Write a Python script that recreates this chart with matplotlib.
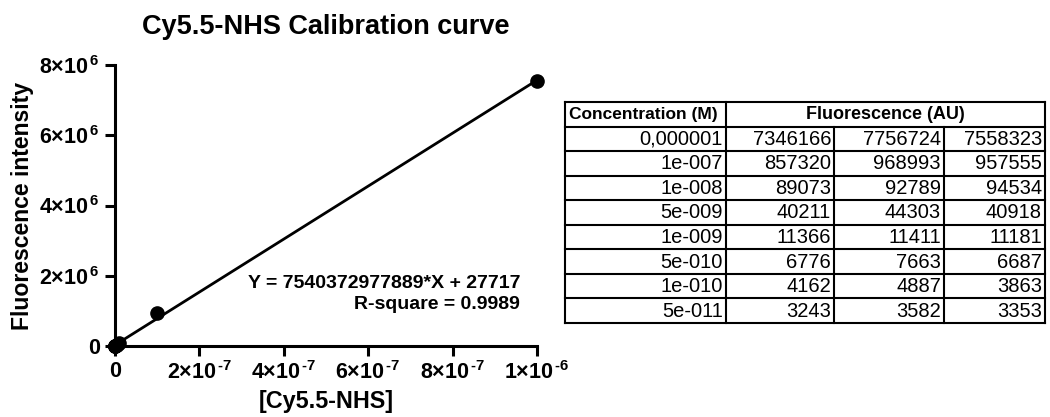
import matplotlib
matplotlib.use("Agg")
import matplotlib.pyplot as plt
import numpy as np

plt.rcParams['font.family'] = ['Liberation Sans', 'DejaVu Sans']
plt.rcParams['mathtext.fontset'] = 'custom'
plt.rcParams['mathtext.rm'] = 'Liberation Sans:bold'
plt.rcParams['mathtext.bf'] = 'Liberation Sans:bold'
plt.rcParams['mathtext.it'] = 'Liberation Sans:bold'

# ---- data ----
conc_labels = ["0,000001", "1e-007", "1e-008", "5e-009", "1e-009", "5e-010", "1e-010", "5e-011"]
conc = [1e-6, 1e-7, 1e-8, 5e-9, 1e-9, 5e-10, 1e-10, 5e-11]
rep1 = [7346166, 857320, 89073, 40211, 11366, 6776, 4162, 3243]
rep2 = [7756724, 968993, 92789, 44303, 11411, 7663, 4887, 3582]
rep3 = [7558323, 957555, 94534, 40918, 11181, 6687, 3863, 3353]
slope = 7540372977889
intercept = 27717
r_square = 0.9989
x_ticks = [0, 2e-7, 4e-7, 6e-7, 8e-7, 1e-6]
x_tick_labels = ["0", r"$2{\times}10^{\,\text{-7}}$", r"$4{\times}10^{\,\text{-7}}$", r"$6{\times}10^{\,\text{-7}}$",
                 r"$8{\times}10^{\,\text{-7}}$", r"$1{\times}10^{\,\text{-6}}$"]
y_ticks = [0, 2e6, 4e6, 6e6, 8e6]
y_tick_labels = ["0", r"$2{\times}10^{\,6}$", r"$4{\times}10^{\,6}$", r"$6{\times}10^{\,6}$", r"$8{\times}10^{\,6}$"]

means = np.mean([rep1, rep2, rep3], axis=0)

W, H = 1050, 417
fig = plt.figure(figsize=(W/100, H/100), dpi=100)
x0, x1, y0, y1 = 115, 537, 346, 65
ax = fig.add_axes([x0/W, 1-y0/H, (x1-x0)/W, (y0-y1)/H])

xfit = np.array([0, max(conc)])
ax.plot(xfit, slope*xfit + intercept, color='black', lw=2, clip_on=False, zorder=2)
ax.plot(conc, means, 'o', color='black', ms=9.5, clip_on=False, zorder=3)

ax.set_xlim(0, 1e-6)
ax.set_ylim(0, 8e6)
ax.set_xticks(x_ticks)
ax.set_xticklabels(x_tick_labels)
ax.set_yticks(y_ticks)
ax.set_yticklabels(y_tick_labels)
for s in ['top', 'right']:
    ax.spines[s].set_visible(False)
for s in ['left', 'bottom']:
    ax.spines[s].set_linewidth(2.2)
ax.tick_params(width=2.2, length=7, labelsize=15.5, pad=4)
for lab in ax.get_xticklabels() + ax.get_yticklabels():
    lab.set_fontweight('bold')
ax.set_xlabel("[Cy5.5-NHS]", fontsize=16.8, fontweight='bold', labelpad=4)
ax.set_ylabel("Fluorescence intensity", fontsize=16.6, fontweight='bold', labelpad=4)
ax.set_title("Cy5.5-NHS Calibration curve", fontsize=19.5, fontweight='bold', pad=22)

ax.text(0.96, 0.224, f"Y = {slope}*X + {intercept}", transform=ax.transAxes,
        ha='right', va='center', fontsize=14, fontweight='bold')
ax.text(0.96, 0.146, f"R-square = {r_square}", transform=ax.transAxes,
        ha='right', va='center', fontsize=14, fontweight='bold')

# ---- table ----
tl, tr, tt, tb = 565, 1045, 102, 323
tax = fig.add_axes([tl/W, 1-tb/H, (tr-tl)/W, (tb-tt)/H])
col_w = [161, 108, 110, 101]
edges = np.concatenate([[0], np.cumsum(col_w)])
nrows = len(conc_labels) + 1
tax.set_xlim(0, edges[-1])
tax.set_ylim(nrows, 0)
tax.axis('off')
lw = 1.5
for r in range(nrows + 1):
    tax.plot([0, edges[-1]], [r, r], color='black', lw=lw, clip_on=False, solid_capstyle='projecting')
for i, e in enumerate(edges):
    if i in (0, 1, len(edges)-1):
        tax.plot([e, e], [0, nrows], color='black', lw=lw, clip_on=False, solid_capstyle='projecting')
    else:
        tax.plot([e, e], [1, nrows], color='black', lw=lw, clip_on=False, solid_capstyle='projecting')

fs = 14.5
tax.text(edges[0] + 4, 0.5, "Concentration (M)", ha='left', va='center', fontsize=12.5, fontweight='bold')
tax.text((edges[1] + edges[-1]) / 2, 0.5, "Fluorescence (AU)", ha='center', va='center', fontsize=13, fontweight='bold')
for r, lab in enumerate(conc_labels):
    y = r + 1.52
    tax.text(edges[1] - 3, y, lab, ha='right', va='center', fontsize=fs)
    for c, vals in enumerate([rep1, rep2, rep3]):
        tax.text(edges[c+2] - 3, y, str(vals[r]), ha='right', va='center', fontsize=fs)

fig.savefig("out.png", dpi=100)
